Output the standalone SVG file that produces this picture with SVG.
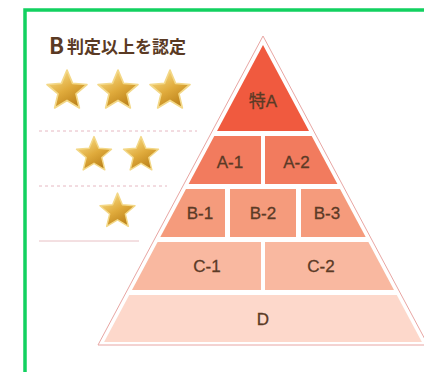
<svg xmlns="http://www.w3.org/2000/svg" width="424" height="372" viewBox="0 0 424 372">
<defs>
<linearGradient id="gold" x1="0.2" y1="0" x2="0.8" y2="1">
<stop offset="0" stop-color="#f9de8a"/>
<stop offset="0.5" stop-color="#e0ab3c"/>
<stop offset="1" stop-color="#b57a14"/>
</linearGradient>
<path id="star" d="M0,-1 L0.2645,-0.364 L0.951,-0.309 L0.428,0.139 L0.5878,0.809 L0,0.45 L-0.5878,0.809 L-0.428,0.139 L-0.951,-0.309 L-0.2645,-0.364 Z"/>
<style>
.lbl{font-family:"Liberation Sans","Noto Sans CJK JP",sans-serif;font-size:17px;fill:#5b3a26;stroke:#5b3a26;stroke-width:0.3;text-anchor:middle}
.st{fill:url(#gold);stroke:#f3d888;stroke-width:0.08;stroke-linejoin:round}
.sep{stroke:#e6b8c2;stroke-width:1;stroke-dasharray:3,3;fill:none}
</style>
</defs>
<path d="M25,372 L25,10 L424,10" fill="none" stroke="#12d160" stroke-width="3.5"/>
<g id="title" font-family="'Noto Sans CJK JP',sans-serif" font-weight="bold" fill="#5a3a24">
<text x="49" y="53.5" font-size="22">B</text>
<text x="67" y="53" font-size="17">判定以上を認定</text>
</g>
<g id="stars">
<use href="#star" class="st" transform="translate(67,91) scale(21)"/>
<use href="#star" class="st" transform="translate(118,91) scale(21)"/>
<use href="#star" class="st" transform="translate(170,91) scale(21)"/>
<line class="sep" x1="39" y1="131" x2="197" y2="131"/>
<use href="#star" class="st" transform="translate(94,155) scale(18.4)"/>
<use href="#star" class="st" transform="translate(141,155) scale(18.4)"/>
<line class="sep" x1="39" y1="186" x2="167" y2="186"/>
<use href="#star" class="st" transform="translate(117.5,211.5) scale(18.4)"/>
<line x1="39" y1="241" x2="139" y2="241" stroke="#e8c0c4" stroke-width="1"/>
</g>
<g id="pyramid">
<path d="M263,36 L98,345 L428,345 Z" fill="#fff" stroke="#e8a6a3" stroke-width="1"/>
</g>
<g id="tokuA">
<polygon points="263,45 217,131 309,131" fill="#f05a3f"/>
<text class="lbl" x="263" y="107">特A</text>
</g>
<g id="A1">
<polygon points="214.3,136 261,136 261,184 188.6,184" fill="#f27b5e"/>
<text class="lbl" x="230" y="168">A-1</text>
</g>
<g id="A2">
<polygon points="265,136 311.7,136 337.4,184 265,184" fill="#f27b5e"/>
<text class="lbl" x="296.5" y="168">A-2</text>
</g>
<g id="B1">
<polygon points="186,189 225,189 225,237 160.3,237" fill="#f59b7c"/>
<text class="lbl" x="200" y="219">B-1</text>
</g>
<g id="B2">
<polygon points="230,189 296,189 296,237 230,237" fill="#f59b7c"/>
<text class="lbl" x="263" y="219">B-2</text>
</g>
<g id="B3">
<polygon points="301,189 340,189 365.7,237 301,237" fill="#f59b7c"/>
<text class="lbl" x="327" y="219">B-3</text>
</g>
<g id="C1">
<polygon points="157.6,242 261,242 261,290 132,290" fill="#f9b8a0"/>
<text class="lbl" x="207" y="272">C-1</text>
</g>
<g id="C2">
<polygon points="265,242 368.4,242 394,290 265,290" fill="#f9b8a0"/>
<text class="lbl" x="321" y="272">C-2</text>
</g>
<g id="D">
<polygon points="129.25,295 396.75,295 421.9,342 104.1,342" fill="#fdd8cb"/>
<text class="lbl" x="263" y="325">D</text>
</g>
</svg>
